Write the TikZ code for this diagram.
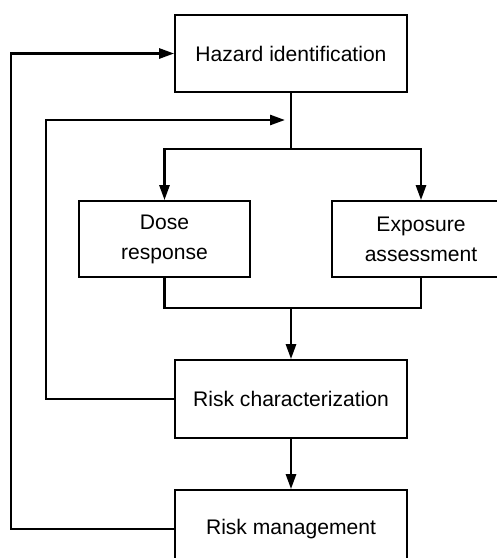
\documentclass[tikz,border=0pt]{standalone}
\usepackage{fontspec}
\setmainfont{Liberation Sans}
\usetikzlibrary{arrows.meta}
\usetikzlibrary{positioning}

\begin{document}
\begin{tikzpicture}[
    x=0.02cm, y=-0.02cm,
    stage/.style={rectangle, draw, line width=1pt, minimum width=4.64cm, minimum height=1.54cm, align=center, font=\fontsize{12}{17}\selectfont},
    small stage/.style={stage, minimum width=3.42cm, minimum height=1.52cm},
    flow/.style={line width=1.5pt},
    arrow/.style={flow, -{Triangle[length=0.3cm, width=0.2cm]}}
  ]
  \useasboundingbox (0,0) rectangle (497,558);
  \clip (0,0) rectangle (497,558);

  % Nodes
  \node[stage] (hazard)   at (291, 53.5) {Hazard identification};
  \node[small stage] (dose) at (164.5, 239) {Dose\\response};
  \node[small stage, minimum width=3.56cm] (expo) at (421, 239) {Exposure\\assessment};
  \node[stage, minimum height=1.56cm] (riskchar) at (291, 399) {Risk characterization};
  \node[stage, minimum height=1.56cm] (riskmgmt) at (291, 529) {Risk management};

  \coordinate (split) at (291, 149);
  \coordinate (join)  at (291, 308);
  \coordinate (inlet) at (285, 120);

  % Main flow
  \draw[flow]  (hazard.south) -- (split);
  \draw[arrow] (split) -| (dose.north);
  \draw[arrow] (split) -| (expo.north);
  \draw[flow]  (dose.south) |- (join) -| (expo.south);
  \draw[arrow] (join) -- (riskchar.north);
  \draw[arrow] (riskchar) -- (riskmgmt);

  % Feedback loops
  \draw[arrow] (riskchar.west) -- ++(-128,0) |- (inlet);
  \draw[arrow] (riskmgmt.west) -- ++(-163,0) |- (hazard.west);

\end{tikzpicture}
\end{document}
